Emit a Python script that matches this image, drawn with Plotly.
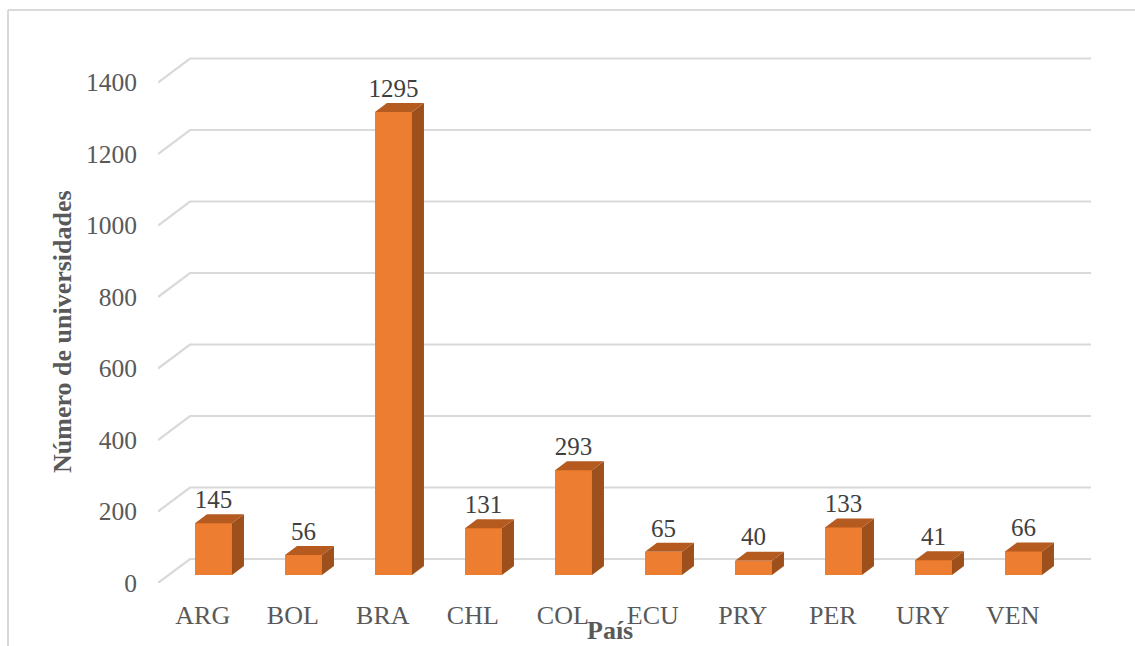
import plotly.graph_objects as go

# Universities per country
paises = ["ARG", "BOL", "BRA", "CHL", "COL", "ECU", "PRY", "PER", "URY", "VEN"]
universidades = [145, 56, 1295, 131, 293, 65, 40, 133, 41, 66]
y_ticks = [0, 200, 400, 600, 800, 1000, 1200, 1400]

# Canvas / plot-area geometry (pixels)
W, H = 1135, 646
M_L, M_R, M_T, M_B = 158, 44, 30, 63
PX_PER_CAT = 90.0          # horizontal distance between categories
PX_PER_UNIT = 0.3575       # vertical pixels per university
CAT0_PX = 202.8            # centre of first category on the floor's front edge

plot_w = W - M_L - M_R
plot_h = H - M_T - M_B
x0 = (M_L - CAT0_PX) / PX_PER_CAT
x1 = x0 + plot_w / PX_PER_CAT
y1 = plot_h / PX_PER_UNIT

# Oblique depth of the 3D floor (front edge -> back wall), in axis units
DX = 32 / PX_PER_CAT
DY = 24 / PX_PER_UNIT
F_FRONT = 1 / 3            # depth fraction of the bar front faces
F_BAR = 0.375              # depth of each bar as fraction of floor depth
BAR_W = 37 / PX_PER_CAT

C_FRONT = "#ED7D31"
C_SIDE = "#9E501C"
C_TOP = "#B55B20"
C_GRID = "#D9D9D9"
C_TEXT = "#595959"
FONT = "Liberation Serif"

fig = go.Figure()

# Back wall gridlines with the oblique left-wall segment, kept beneath the bars
grid_shapes = []
for v in y_ticks:
    path = f"M {x0},{v} L {x0 + DX},{v + DY} L {x1},{v + DY}"
    grid_shapes.append(dict(type="path", path=path, xref="x", yref="y", layer="below",
                            line=dict(color=C_GRID, width=2.2)))

# Bar front faces
fx = [i + F_FRONT * DX for i in range(len(paises))]
base = F_FRONT * DY
fig.add_trace(go.Bar(x=fx, y=universidades, base=[base] * len(paises), width=BAR_W,
                     marker=dict(color=C_FRONT, line=dict(width=0)),
                     hoverinfo="skip", showlegend=False))

# Side and top faces
ddx, ddy = F_BAR * DX, F_BAR * DY
sx, sy, tx, ty = [], [], [], []
for xc, v in zip(fx, universidades):
    xl, xr = xc - BAR_W / 2, xc + BAR_W / 2
    top = base + v
    sx += [xr, xr + ddx, xr + ddx, xr, xr, None]
    sy += [base, base + ddy, top + ddy, top, base, None]
    tx += [xl, xr, xr + ddx, xl + ddx, xl, None]
    ty += [top, top, top + ddy, top + ddy, top, None]
fig.add_trace(go.Scatter(x=sx, y=sy, mode="lines", fill="toself", fillcolor=C_SIDE,
                         line=dict(width=0, color=C_SIDE), hoverinfo="skip", showlegend=False))
fig.add_trace(go.Scatter(x=tx, y=ty, mode="lines", fill="toself", fillcolor=C_TOP,
                         line=dict(width=0, color=C_TOP), hoverinfo="skip", showlegend=False))

# Value labels above each bar
fig.add_trace(go.Scatter(x=fx, y=[base + v + ddy for v in universidades], mode="text",
                         text=[str(v) for v in universidades], textposition="top center",
                         textfont=dict(family=FONT, size=25, color="#404040"),
                         cliponaxis=False, hoverinfo="skip", showlegend=False))

frame = [
    dict(type="line", xref="paper", yref="paper",
         x0=(8 - M_L) / plot_w, x1=(8 - M_L) / plot_w,
         y0=(H - M_B - 10) / plot_h, y1=(H - M_B - 660) / plot_h,
         line=dict(color=C_GRID, width=2)),
    dict(type="line", xref="paper", yref="paper",
         x0=(8 - M_L) / plot_w, x1=(1150 - M_L) / plot_w,
         y0=(H - M_B - 10) / plot_h, y1=(H - M_B - 10) / plot_h,
         line=dict(color=C_GRID, width=2)),
]

fig.update_layout(
    width=W, height=H,
    margin=dict(l=M_L, r=M_R, t=M_T, b=M_B, pad=0),
    paper_bgcolor="white", plot_bgcolor="white",
    bargap=0,
    xaxis=dict(range=[x0, x1], tickmode="array", tickvals=list(range(len(paises))),
               ticktext=paises, showgrid=False, zeroline=False, showline=False,
               ticks="", ticklabelstandoff=14,
               tickfont=dict(family=FONT, size=26, color=C_TEXT)),
    yaxis=dict(range=[0, y1], tickmode="array", tickvals=y_ticks,
               showgrid=False, zeroline=False, showline=False, ticks="",
               ticklabelstandoff=20,
               tickfont=dict(family=FONT, size=25.5, color=C_TEXT)),
    annotations=[
        dict(text="<b>Número de universidades</b>", textangle=-90,
             xref="paper", yref="paper",
             x=(62 - M_L) / plot_w, y=(H - M_B - 332) / plot_h,
             xanchor="center", yanchor="middle", showarrow=False,
             font=dict(family=FONT, size=26, color=C_TEXT)),
        dict(text="<b>País</b>", xref="paper", yref="paper",
             x=(610 - M_L) / plot_w, y=(H - M_B - 630) / plot_h,
             xanchor="center", yanchor="middle", showarrow=False,
             font=dict(family=FONT, size=26, color=C_TEXT)),
    ],
    shapes=grid_shapes + frame,
)

fig.write_html("out.html")
